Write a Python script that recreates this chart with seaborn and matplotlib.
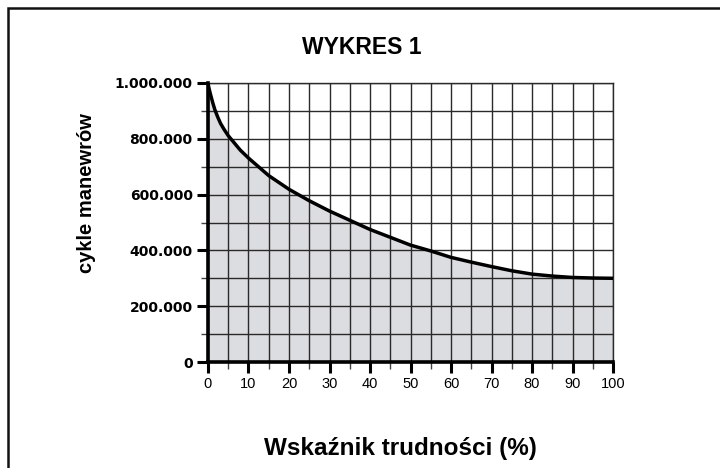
import numpy as np
import pandas as pd
import matplotlib
matplotlib.use("Agg")
import matplotlib.pyplot as plt
import seaborn as sns
from matplotlib.patches import Rectangle
from matplotlib.ticker import FixedLocator, MultipleLocator

# Data
difficulty = [0, 0.2, 0.6, 1.2, 1.7, 2.4, 3.1, 4, 5, 8, 10, 15, 20, 25, 30,
              35, 40, 45, 50, 55, 60, 65, 70, 75, 80, 85, 90, 95, 100]
cycles = [1000000, 984000, 960000, 928000, 904000, 878000, 855000, 833000,
          811000, 759000, 731000, 668000, 619000, 578000, 541000, 508000,
          475000, 447000, 419000, 398000, 375000, 358000, 342000, 327000,
          315000, 308000, 303000, 301000, 300000]

x_ticks = [0, 10, 20, 30, 40, 50, 60, 70, 80, 90, 100]
x_tick_labels = ["0", "10", "20", "30", "40", "50", "60", "70", "80", "90", "100"]
y_ticks = [0, 200000, 400000, 600000, 800000, 1000000]
y_tick_labels = ["0", "200.000", "400.000", "600.000", "800.000", "1.000.000"]

title = "WYKRES 1"
x_label = "Wskaźnik trudności (%)"
y_label = "cykle manewrów"

df = pd.DataFrame({"difficulty": difficulty, "cycles": cycles})

sns.set_theme(style="white")
plt.rcParams["font.family"] = ["Liberation Sans", "DejaVu Sans"]
plt.rcParams.update({"text.color": "black", "axes.labelcolor": "black",
                     "xtick.color": "black", "ytick.color": "black"})

W, H = 720, 468
fig = plt.figure(figsize=(7.2, 4.68), dpi=100)
ax = fig.add_axes([208 / W, 1 - 362 / H, (613 - 208) / W, (362 - 83) / H])

# outer frame (only top and left visible)
fig.patches.append(Rectangle((8 / W, -0.1), 1.2, 1 - 8 / H + 0.1,
                             transform=fig.transFigure, fill=False,
                             edgecolor="#111111", linewidth=1.8))

ax.fill_between(df["difficulty"], 0, df["cycles"], color="#dcdde0",
                linewidth=0, zorder=1)
sns.lineplot(data=df, x="difficulty", y="cycles", color="black",
             linewidth=2.5, ax=ax, zorder=4)

ax.set_xlim(0, 100)
ax.set_ylim(0, 1000000)

ax.xaxis.set_major_locator(FixedLocator(x_ticks))
ax.xaxis.set_minor_locator(MultipleLocator(5))
ax.yaxis.set_major_locator(FixedLocator(y_ticks))
ax.yaxis.set_minor_locator(MultipleLocator(100000))
ax.set_xticklabels(x_tick_labels, fontsize=10.5)
ax.set_yticklabels(y_tick_labels, fontsize=10, fontweight="bold",
                   family="DejaVu Sans")

ax.grid(True, which="both", color="#2a2a2a", linewidth=1.0, zorder=2)
ax.set_axisbelow(False)

ax.tick_params(which="major", direction="out", length=8, width=2.2,
               color="black", bottom=True, left=True, pad=3)
ax.tick_params(which="minor", direction="out", length=5, width=1.0,
               color="#444444", bottom=True, left=True)

for side in ["left", "bottom"]:
    ax.spines[side].set_linewidth(2.6)
    ax.spines[side].set_color("black")
    ax.spines[side].set_zorder(5)
for side in ["top", "right"]:
    ax.spines[side].set_linewidth(1.0)
    ax.spines[side].set_color("#2a2a2a")

ax.set_xlabel(x_label, fontsize=17.5, fontweight="bold")
ax.xaxis.set_label_coords((400 - 208) / 405, (362 - 437) / 279)
ax.set_ylabel(y_label, fontsize=14.5, fontweight="bold")
ax.yaxis.set_label_coords((96 - 208) / 405, (362 - 193) / 279)

fig.text(362 / W, 1 - 47 / H, title, ha="center", va="center",
         fontsize=16.5, fontweight="bold")

fig.savefig("out.png", dpi=100)
